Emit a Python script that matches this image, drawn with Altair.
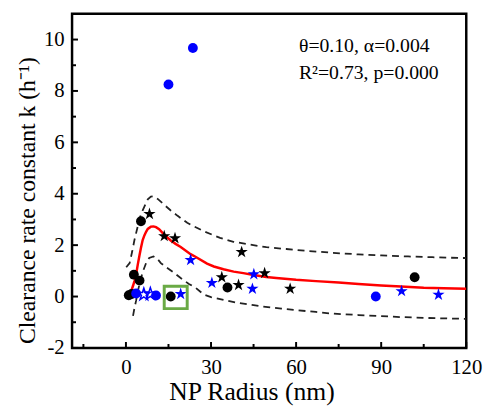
import altair as alt
import pandas as pd

FONT = "Liberation Serif"
STAR = ("M0,-1L0.2245,-0.309L0.951,-0.309L0.363,0.118L0.588,0.809L0,0.382"
        "L-0.588,0.809L-0.363,0.118L-0.951,-0.309L-0.2245,-0.309Z")

# ---- scatter data ----
black_circle_x = [1.0, 2.0, 2.8, 4.8, 5.3, 15.8, 35.8, 101.8]
black_circle_y = [0.05, 0.1, 0.85, 0.62, 2.93, 0.0, 0.35, 0.75]

black_star_x = [8.3, 13.5, 17.3, 33.8, 39.7, 40.8, 48.9, 57.9]
black_star_y = [3.21, 2.35, 2.27, 0.75, 0.45, 1.73, 0.91, 0.30]

blue_circle_x = [3.6, 10.6, 15.0, 23.6, 88.1]
blue_circle_y = [0.12, 0.04, 8.25, 9.67, 0.0]

blue_star_x = [19.3, 22.8, 30.3, 44.6, 45.1, 97.2, 110.2]
blue_star_y = [0.10, 1.42, 0.53, 0.30, 0.87, 0.21, 0.07]

blue_hollow_star_x = [6.3, 8.6]
blue_hollow_star_y = [0.08, 0.10]

# ---- fitted curve and band ----
fit_x = [0.1, 1.0, 1.9, 2.5, 3.0, 3.6, 4.2, 4.8, 5.3, 5.9, 6.5, 7.1, 7.7, 8.8, 9.7,
         10.6, 11.7, 12.9, 14.1, 15.8, 17.5, 19.3, 22.8, 24.5, 28.6, 31, 34.4, 38,
         41.4, 45, 49.5, 53, 60, 67, 75, 82, 90, 97, 105, 112, 120]
fit_y = [0.0, 0.08, 0.23, 0.42, 0.6, 0.87, 1.26, 1.62, 1.9, 2.2, 2.38, 2.52, 2.63, 2.72, 2.73,
         2.70, 2.62, 2.48, 2.35, 2.18, 2.05, 1.93, 1.65, 1.55, 1.28, 1.17, 1.06, 0.97,
         0.91, 0.84, 0.76, 0.72, 0.65, 0.60, 0.55, 0.49, 0.43, 0.39, 0.34, 0.32, 0.30]

upper_x = [0.1, 1.3, 2.2, 3.0, 4.2, 5.3, 6.5, 7.7, 8.8, 9.7, 11.2, 13.5, 15.8, 18.1, 21.6,
           22.8, 27.4, 33.2, 37.9, 44.9, 49.5, 56.5, 64.6, 73, 82, 90, 99.5, 108, 117.5, 120]
upper_y = [1.14, 1.3, 1.75, 2.2, 2.75, 3.2, 3.5, 3.78, 3.89, 3.9, 3.8, 3.57, 3.35, 3.15, 2.87,
           2.8, 2.54, 2.28, 2.13, 2.0, 1.92, 1.85, 1.77, 1.7, 1.64, 1.6, 1.56, 1.53, 1.5, 1.5]

lower_x = [2.5, 3.0, 3.6, 4.2, 4.8, 5.9, 7.1, 8.2, 9.7, 11, 12.3, 14.1, 17, 19.3, 22.2,
           24.5, 27.4, 30, 33.2, 39, 45, 47.8, 54.8, 60, 67, 72.2, 82, 89.6, 97, 105, 112, 120]
lower_y = [-0.75, -0.45, -0.15, 0.2, 0.5, 0.95, 1.3, 1.5, 1.56, 1.48, 1.3, 1.15, 0.92, 0.72, 0.49,
           0.35, 0.08, -0.02, -0.1, -0.24, -0.33, -0.38, -0.47, -0.53, -0.6, -0.66, -0.72, -0.76,
           -0.8, -0.83, -0.85, -0.87]

# highlighted box
box_x = [13.5]
box_x2 = [21.6]
box_y = [-0.47]
box_y2 = [0.40]

# annotation
note_text = ["θ=0.10, α=0.004", "R²=0.73, p=0.000"]
note_x = [61, 61]
note_y = [9.73, 8.69]

# ticks
x_major = [0, 30, 60, 90, 120]
x_minor = [-15, 15, 45, 75, 105]
y_major = [-2, 0, 2, 4, 6, 8, 10]
y_minor = [-1, 1, 3, 5, 7, 9]

W, H = 400, 339
xs = alt.Scale(domain=[-19, 120], nice=False, zero=False)
ys = alt.Scale(domain=[-2, 11], nice=False, zero=False)

xaxis = alt.Axis(values=x_major, ticks=False, domain=False, grid=False, labelFont=FONT,
                 labelFontSize=21, labelColor="black", labelPadding=9, labelFlush=False,
                 title="NP Radius (nm)",
                 titleFont=FONT, titleFontSize=26, titleFontWeight="normal", titleColor="black",
                 titlePadding=1, titleX=182, orient="bottom")
yaxis = alt.Axis(values=y_major, ticks=False, domain=False, grid=False, labelFont=FONT,
                 labelFontSize=21, labelColor="black", labelPadding=8, labelFlush=False,
                 labelExpr="'' + datum.value", orient="left",
                 title="Clearance rate constant k (h⁻¹)", titleFont=FONT, titleFontSize=24,
                 titleFontWeight="normal", titleColor="black", titlePadding=4, titleY=189)

rows = []
def add(name, xv, yv):
    for a, b in zip(xv, yv):
        rows.append({"series": name, "x": a, "y": b})

add("upper", upper_x, upper_y)
add("lower", lower_x, lower_y)
add("fit", fit_x, fit_y)
add("bc", black_circle_x, black_circle_y)
add("bs", black_star_x, black_star_y)
add("uc", blue_circle_x, blue_circle_y)
add("us", blue_star_x, blue_star_y)
add("uh", blue_hollow_star_x, blue_hollow_star_y)
data = pd.DataFrame(rows)

base = alt.Chart(data).encode(
    x=alt.X("x:Q", scale=xs, axis=xaxis),
    y=alt.Y("y:Q", scale=ys, axis=yaxis),
)

upper = base.transform_filter("datum.series == 'upper'").mark_line(
    color="#222222", strokeWidth=1.8, strokeDash=[7, 5], clip=True)
lower = base.transform_filter("datum.series == 'lower'").mark_line(
    color="#222222", strokeWidth=1.8, strokeDash=[7, 5], clip=True)
fit = base.transform_filter("datum.series == 'fit'").mark_line(
    color="#ff0000", strokeWidth=2.5, clip=True)

bc = base.transform_filter("datum.series == 'bc'").mark_point(
    shape="circle", filled=True, color="black", size=100, opacity=1)
bs = base.transform_filter("datum.series == 'bs'").mark_point(
    shape=STAR, filled=True, color="black", size=170, opacity=1)
uc = base.transform_filter("datum.series == 'uc'").mark_point(
    shape="circle", filled=True, color="#0000ff", size=100, opacity=1)
us = base.transform_filter("datum.series == 'us'").mark_point(
    shape=STAR, filled=True, color="#0000ff", size=170, opacity=1)
uh = base.transform_filter("datum.series == 'uh'").mark_point(
    shape=STAR, filled=False, color="#0000ff", strokeWidth=1.5, size=170, opacity=1)

box = alt.Chart(pd.DataFrame({"x": box_x, "x2": box_x2, "y": box_y, "y2": box_y2})).mark_rect(
    fillOpacity=0, stroke="#6aaa45", strokeWidth=3).encode(
    x=alt.X("x:Q", scale=xs), x2="x2:Q",
    y=alt.Y("y:Q", scale=ys), y2="y2:Q")

note = alt.Chart(pd.DataFrame({"x": note_x, "y": note_y, "t": note_text})).mark_text(
    font=FONT, fontSize=20, align="left", baseline="middle", color="black").encode(
    x=alt.X("x:Q", scale=xs), y=alt.Y("y:Q", scale=ys), text="t:N")

xt_major = alt.Chart(pd.DataFrame({"v": x_major})).mark_rule(color="black", strokeWidth=2).encode(
    x=alt.X("v:Q", scale=xs), y=alt.value(H), y2=alt.value(H - 6))
xt_minor = alt.Chart(pd.DataFrame({"v": x_minor})).mark_rule(color="black", strokeWidth=2).encode(
    x=alt.X("v:Q", scale=xs), y=alt.value(H), y2=alt.value(H - 4))
yt_major = alt.Chart(pd.DataFrame({"v": y_major})).mark_rule(color="black", strokeWidth=2).encode(
    y=alt.Y("v:Q", scale=ys), x=alt.value(0), x2=alt.value(6))
yt_minor = alt.Chart(pd.DataFrame({"v": y_minor})).mark_rule(color="black", strokeWidth=2).encode(
    y=alt.Y("v:Q", scale=ys), x=alt.value(0), x2=alt.value(4))

chart = alt.layer(
    upper, lower, fit, bc, bs, uc, us, uh, box, note, xt_major, xt_minor, yt_major, yt_minor
).properties(
    width=W, height=H,
    autosize=alt.AutoSizeParams(type="none"),
    padding={"left": 65, "top": 3, "right": 18, "bottom": 57},
).configure(
    background="white", font=FONT
).configure_axis(
    labelFont=FONT, titleFont=FONT
).configure_view(
    stroke="black", strokeWidth=2.5
)

chart.save("out.html", embed_options={"renderer": "svg", "actions": False})
